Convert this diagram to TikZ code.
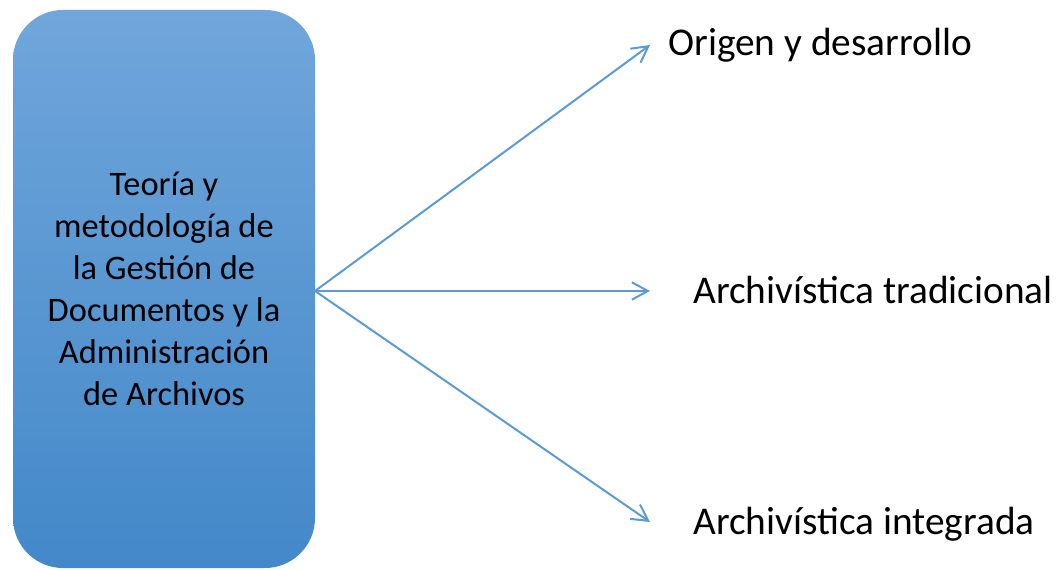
\documentclass[tikz,border=0pt]{standalone}
\usepackage{fontspec}
\setmainfont{Carlito}
\usetikzlibrary{arrows.meta}
\definecolor{linkblue}{HTML}{5B9BD5}
\definecolor{boxtop}{HTML}{70A6DB}
\definecolor{boxbot}{HTML}{4388C9}
\tikzset{
  mainbox/.style={rectangle, rounded corners=37.5pt, top color=boxtop, bottom color=boxbot, draw=none,
    minimum width=226.5pt, minimum height=418.5pt, inner sep=0pt, align=center,
    font=\fontsize{25.8pt}{31.5pt}\selectfont, text=black},
  leaf/.style={anchor=base west, inner sep=0pt, font=\fontsize{29.5pt}{35pt}\selectfont, text=black},
  link/.style={draw=linkblue, line width=1.5pt, -{Straight Barb[length=12pt,width=13pt,line width=1.5pt]}}
}
\begin{document}
\begin{tikzpicture}[x=0.75pt,y=-0.75pt]
\useasboundingbox (0,0) rectangle (1059,570);
\node[mainbox] (box) at (164,289) {Teoría y\\metodología de\\la Gestión de\\Documentos y la\\Administración\\de Archivos};
\node[leaf] (t1) at (668,56) {Origen y desarrollo};
\node[leaf] (t2) at (693,303) {Archivística tradicional};
\node[leaf] (t3) at (693,534) {Archivística integrada};
\coordinate (src) at (315,291);
\coordinate (e1) at (650,45);
\coordinate (e2) at (650,291);
\coordinate (e3) at (650,522);
\draw[link] (src) -- (e1);
\draw[link] (src) -- (e2);
\draw[link] (src) -- (e3);
\end{tikzpicture}
\end{document}
